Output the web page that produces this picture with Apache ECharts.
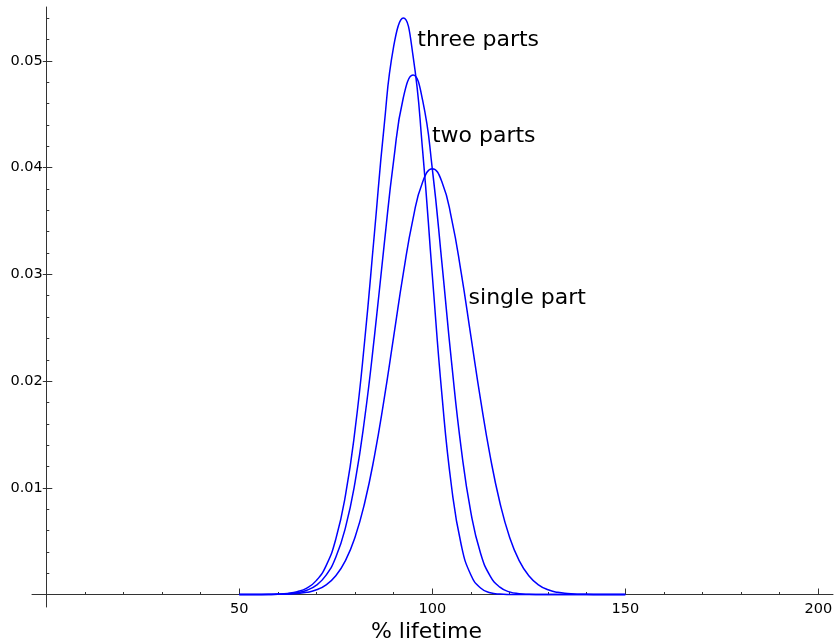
<!DOCTYPE html>
<html>
<head>
<meta charset="utf-8">
<script src="https://cdn.jsdelivr.net/npm/echarts@6/dist/echarts.min.js"></script>
<style>
html,body{margin:0;padding:0;background:#fff;}
#chart{width:836px;height:644px;}
</style>
</head>
<body>
<div id="chart"></div>
<script>
// % lifetime sample points
const xValues = [50,52.5,55,57.5,60,62.5,65,67.5,70,72.5,75,77.5,80,82.5,85,87.5,90,92.5,95,97.5,100,102.5,105,107.5,110,112.5,115,117.5,120,122.5,125,127.5,130,132.5,135,137.5,140,142.5,145,147.5,150];
const singlePart = [0.0000001,0.0000005,0.0000016,0.0000048,0.0000134,0.0000353,0.0000873,0.0002029,0.0004432,0.0009094,0.0017528,0.0031740,0.0053991,0.0086277,0.0129518,0.0182649,0.0241971,0.0301137,0.0352065,0.0386668,0.0398942,0.0386668,0.0352065,0.0301137,0.0241971,0.0182649,0.0129518,0.0086277,0.0053991,0.0031740,0.0017528,0.0009094,0.0004432,0.0002029,0.0000873,0.0000353,0.0000134,0.0000048,0.0000016,0.0000005,0.0000001];
const twoParts = [0.0000003,0.0000010,0.0000032,0.0000095,0.0000268,0.0000706,0.0001746,0.0004056,0.0008852,0.0018134,0.0034838,0.0062704,0.0105525,0.0165643,0.0241734,0.0326703,0.0407163,0.0465785,0.0486881,0.0463000,0.0398942,0.0310335,0.0217252,0.0136493,0.0076780,0.0038594,0.0017305,0.0006912,0.0002457,0.0000776,0.0000218,0.0000054,0.0000012,0.0000002,0,0,0,0,0,0,0];
const threeParts = [0.0000004,0.0000015,0.0000048,0.0000143,0.0000401,0.0001059,0.0002618,0.0006080,0.0013260,0.0027120,0.0051933,0.0092907,0.0154686,0.0238509,0.0338368,0.0438282,0.0513846,0.0540336,0.0504989,0.0415800,0.0299207,0.0186804,0.0100547,0.0046399,0.0018272,0.0006116,0.0001734,0.0000415,0.0000084,0.0000014,0.0000002,0,0,0,0,0,0,0,0,0,0];

// curve annotations
const labelTexts = ['three parts','two parts','single part'];
const labelX = [96.1, 99.9, 109.4];
const labelY = [0.05191, 0.04294, 0.02776];

// ticks
const xMajorTicks = [50,100,150,200];
const xMinorTicks = [10,20,30,40,60,70,80,90,110,120,130,140,160,170,180,190];
const yMajorTicks = [0.01,0.02,0.03,0.04,0.05];
const yMinorTicks = [0.002,0.004,0.006,0.008,0.012,0.014,0.016,0.018,0.022,0.024,0.026,0.028,0.032,0.034,0.036,0.038,0.042,0.044,0.046,0.048,0.052,0.054];
const xTitle = '% lifetime';

const FONT = 'DejaVu Sans';
const AX = '#333';
const xMin = -3.7, xMax = 203.8, yMin = -0.00117, yMax = 0.05506;

function pairs(xs, ys){ return xs.map((x,i)=>[x, ys[i]]); }

const hiddenLine = {show:true, onZero:true, onZeroAxisIndex:0, lineStyle:{opacity:0}};

const option = {
  animation:false,
  backgroundColor:'#ffffff',
  grid:{left:32, right:3, top:7, bottom:37, containLabel:false, outerBoundsMode:'none'},
  xAxis:[
    {type:'value', min:xMin, max:xMax, position:'bottom',
     axisLine:{show:true, onZero:true, onZeroAxisIndex:0, lineStyle:{color:AX, width:1}},
     axisTick:{show:true, inside:true, length:6, customValues:xMajorTicks, lineStyle:{color:AX}},
     axisLabel:{show:true, customValues:xMajorTicks, margin:-5.6, fontFamily:FONT, fontSize:14.5, color:'#000'},
     splitLine:{show:false},
     name:xTitle, nameLocation:'middle', nameGap:9,
     nameTextStyle:{fontFamily:FONT, fontSize:22, color:'#000', padding:[0,12,0,0]}},
    {type:'value', min:xMin, max:xMax, position:'bottom',
     axisLine:hiddenLine,
     axisTick:{show:true, inside:true, length:2.5, customValues:xMinorTicks, lineStyle:{color:AX}},
     axisLabel:{show:false}, splitLine:{show:false}}
  ],
  yAxis:[
    {type:'value', min:yMin, max:yMax, position:'left',
     axisLine:{show:true, onZero:true, onZeroAxisIndex:0, lineStyle:{color:AX, width:1}},
     axisTick:{show:true, inside:true, length:6, customValues:yMajorTicks, lineStyle:{color:AX}},
     axisLabel:{show:true, customValues:yMajorTicks, margin:-10.7, fontFamily:FONT, fontSize:14.5, color:'#000',
                formatter:(v)=>String(+v.toFixed(3))},
     splitLine:{show:false}},
    {type:'value', min:yMin, max:yMax, position:'left',
     axisLine:hiddenLine,
     axisTick:{show:true, inside:false, length:3.5, customValues:yMajorTicks, lineStyle:{color:AX}},
     axisLabel:{show:false}, splitLine:{show:false}},
    {type:'value', min:yMin, max:yMax, position:'left',
     axisLine:hiddenLine,
     axisTick:{show:true, inside:true, length:3, customValues:yMinorTicks, lineStyle:{color:AX}},
     axisLabel:{show:false}, splitLine:{show:false}}
  ],
  series:[
    {name:'single part', type:'line', data:pairs(xValues, singlePart), showSymbol:false, smooth:0.5,
     lineStyle:{color:'#0000ff', width:1.5}, itemStyle:{color:'#0000ff'}},
    {name:'two parts', type:'line', data:pairs(xValues, twoParts), showSymbol:false, smooth:0.5,
     lineStyle:{color:'#0000ff', width:1.5}, itemStyle:{color:'#0000ff'}},
    {name:'three parts', type:'line', data:pairs(xValues, threeParts), showSymbol:false, smooth:0.5,
     lineStyle:{color:'#0000ff', width:1.5}, itemStyle:{color:'#0000ff'}},
    {name:'labels', type:'scatter', symbolSize:0, data:pairs(labelX, labelY), silent:true,
     itemStyle:{opacity:1, color:'#000'},
     label:{show:true, position:'right', distance:0, formatter:(p)=>labelTexts[p.dataIndex],
            fontFamily:FONT, fontSize:22, color:'#000000', opacity:1, textBorderWidth:0, align:'left', verticalAlign:'middle'}}
  ]
};

const chart = echarts.init(document.getElementById('chart'), null, {renderer:'canvas'});
chart.setOption(option);
</script>
</body>
</html>
